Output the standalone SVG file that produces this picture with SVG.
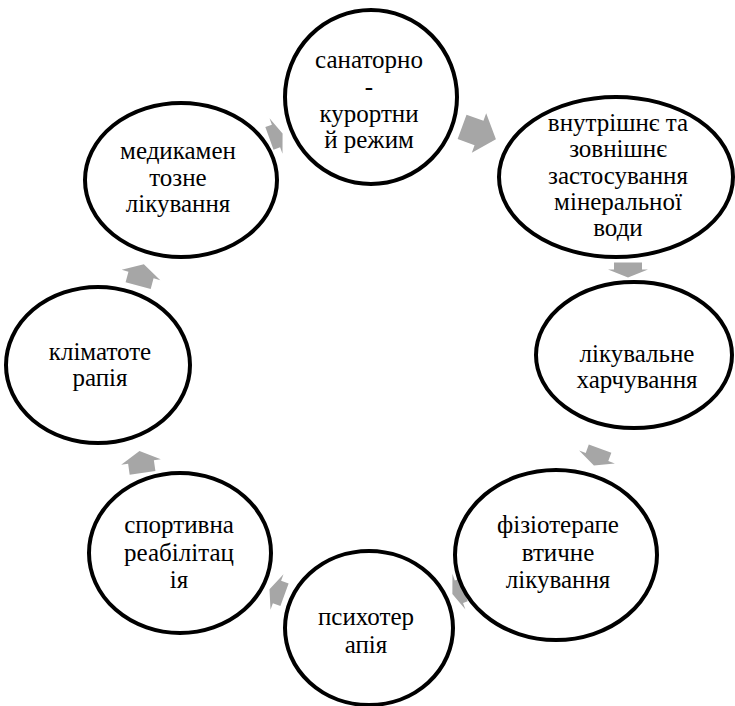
<svg xmlns="http://www.w3.org/2000/svg" width="735" height="706" viewBox="0 0 735 706">
<style>
.node ellipse{fill:#fff;stroke:#000;stroke-width:4}
.node text{font-family:"Liberation Serif","Times New Roman",serif;font-size:25px;fill:#000;text-anchor:middle}
.arr{fill:#a6a6a6;stroke:none}
</style>
<rect width="735" height="706" fill="#fff"/>
<g id="connectors">
<polygon class="arr" transform="translate(479,133) rotate(20)" points="-18,-13 0,-13 0,-21 18,0 0,21 0,13 -18,13"/>
<polygon class="arr" transform="translate(628,270) rotate(90)" points="-7.5,-14 -0.5,-14 -0.5,-20 7.5,0 -0.5,20 -0.5,14 -7.5,14"/>
<polygon class="arr" transform="translate(597,457) rotate(110)" points="-9,-12 0,-12 0,-19 9,0 0,19 0,12 -9,12"/>
<polygon class="arr" transform="translate(458,592) rotate(160)" points="-6,-12 -1,-12 -1,-19 6,0 -1,19 -1,12 -6,12"/>
<polygon class="arr" transform="translate(277,592) rotate(200)" points="-8,-12 0,-12 0,-19 8,0 0,19 0,12 -8,12"/>
<polygon class="arr" transform="translate(141,462) rotate(262)" points="-11,-13 0,-13 0,-20 11,0 0,20 0,13 -11,13"/>
<polygon class="arr" transform="translate(141,275) rotate(285)" points="-11,-13 0,-13 0,-20 11,0 0,20 0,13 -11,13"/>
<polygon class="arr" transform="translate(276,136) rotate(340)" points="-7,-12 0,-12 0,-19 7,0 0,19 0,12 -7,12"/>
</g>
<g id="n1" class="node">
<ellipse cx="371" cy="97" rx="86" ry="87"/>
<text x="369" y="68">санаторно</text>
<text x="369" y="95">-</text>
<text x="369" y="122">курортни</text>
<text x="369" y="148">й режим</text>
</g>
<g id="n2" class="node">
<ellipse cx="616" cy="177" rx="117" ry="80"/>
<text x="618" y="131">внутрішнє та</text>
<text x="618" y="157">зовнішнє</text>
<text x="618" y="184">застосування</text>
<text x="618" y="210">мінеральної</text>
<text x="618" y="236">води</text>
</g>
<g id="n3" class="node">
<ellipse cx="634" cy="355" rx="98" ry="73"/>
<text x="637" y="362">лікувальне</text>
<text x="637" y="388">харчування</text>
</g>
<g id="n4" class="node">
<ellipse cx="556" cy="555" rx="101" ry="85"/>
<text x="558" y="533">фізіотерапе</text>
<text x="558" y="561">втичне</text>
<text x="558" y="588">лікування</text>
</g>
<g id="n5" class="node">
<ellipse cx="369" cy="628" rx="84" ry="77"/>
<text x="366" y="625">психотер</text>
<text x="366" y="653">апія</text>
</g>
<g id="n6" class="node">
<ellipse cx="180" cy="553" rx="91" ry="80"/>
<text x="179" y="533">спортивна</text>
<text x="179" y="561">реабілітац</text>
<text x="179" y="588">ія</text>
</g>
<g id="n7" class="node">
<ellipse cx="98" cy="365" rx="92" ry="78"/>
<text x="100" y="360">кліматоте</text>
<text x="100" y="386">рапія</text>
</g>
<g id="n8" class="node">
<ellipse cx="181" cy="180" rx="96" ry="77"/>
<text x="178" y="159">медикамен</text>
<text x="178" y="186">тозне</text>
<text x="178" y="212">лікування</text>
</g>
</svg>
